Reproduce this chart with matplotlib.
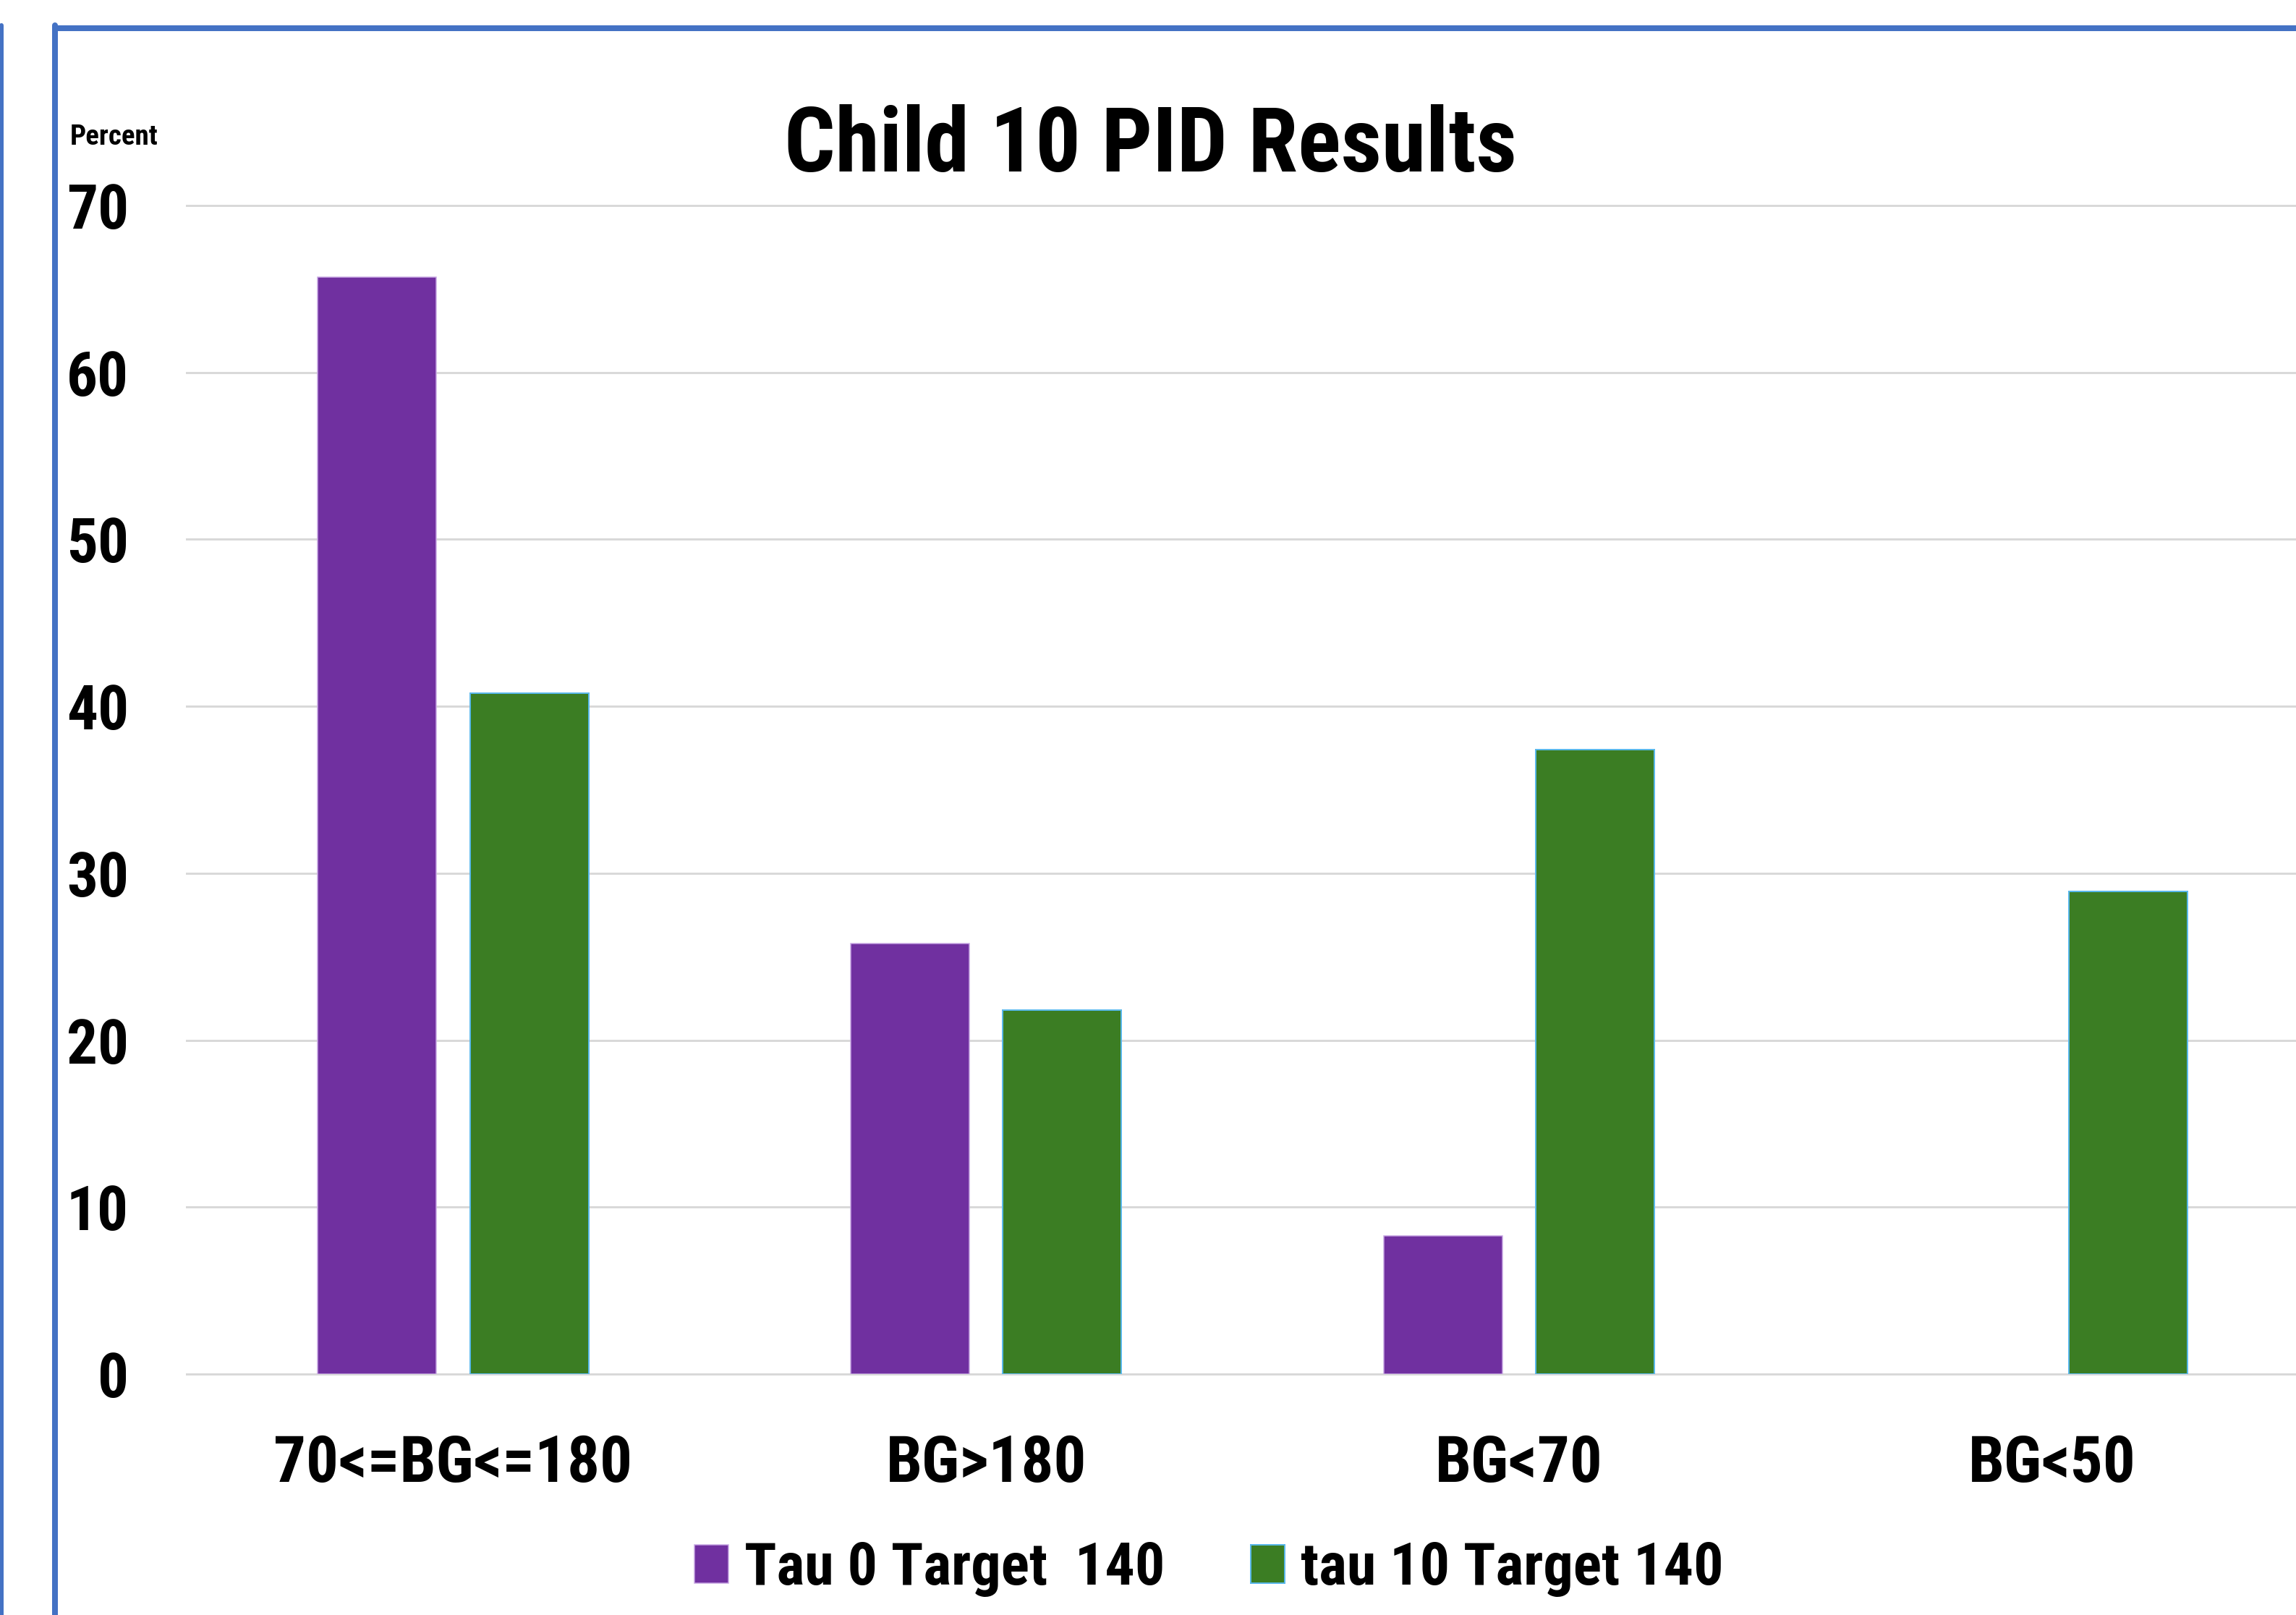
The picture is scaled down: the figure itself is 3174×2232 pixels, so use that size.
import matplotlib
matplotlib.use("Agg")
import matplotlib.pyplot as plt
from matplotlib import font_manager
from matplotlib.lines import Line2D
import numpy as np

categories = ["70<=BG<=180", "BG>180", "BG<70", "BG<50"]
series_names = ["Tau 0 Target  140", "tau 10 Target 140"]
tau0_values = [65.7, 25.8, 8.3, 0.0]
tau10_values = [40.8, 21.8, 37.4, 28.9]
yticks = [0, 10, 20, 30, 40, 50, 60, 70]

def pick_font(cands):
    for c in cands:
        try:
            font_manager.findfont(font_manager.FontProperties(family=c, weight="bold"),
                                  fallback_to_default=False)
            return c
        except Exception:
            pass
    return "DejaVu Sans"

NARROW = pick_font(["Liberation Sans Narrow", "Arial Narrow", "Roboto Condensed", "Liberation Sans"])
TITLE_FONT = NARROW
plt.rcParams["font.family"] = [NARROW, "DejaVu Sans"]
plt.rcParams["font.weight"] = "bold"

W, H = 3174, 2232
DPI = 72
fig = plt.figure(figsize=(W / DPI, H / DPI), dpi=DPI)
fig.patch.set_facecolor("white")

left_px, right_px = 258, 3205
bottom_px, top_px = 1899, 284
ax = fig.add_axes([left_px / W, 1 - bottom_px / H, (right_px - left_px) / W, (bottom_px - top_px) / H])

purple = "#7030A0"
green = "#3B7D23"
x = np.arange(len(categories))
bw = 0.2226
off = 0.143
ax.bar(x - off, tau0_values, bw, color=purple, edgecolor="#c7a6e3",
       linewidth=[1.5 if v > 0 else 0 for v in tau0_values],
       label=series_names[0], zorder=3)
ax.bar(x + off, tau10_values, bw, color=green, edgecolor="#5ab8ea",
       linewidth=[2 if v > 0 else 0 for v in tau10_values],
       label=series_names[1], zorder=3)

ax.set_xlim(-0.5, len(categories) - 0.5)
ax.set_ylim(0, 70)
ax.set_yticks(yticks)
ax.set_yticklabels([str(t) for t in yticks], fontsize=85, fontweight="bold")
ax.set_xticks(x)
ax.set_xticklabels(categories, fontsize=89, fontweight="bold")
ax.tick_params(axis="y", length=0, pad=80)
ax.tick_params(axis="x", length=0, pad=82)
for s in ax.spines.values():
    s.set_visible(False)
ax.yaxis.grid(True, color="#d9d9d9", linewidth=3, zorder=0)
for gl in ax.yaxis.get_gridlines():
    gl.set_clip_on(False)
ax.set_axisbelow(True)
ax.patch.set_alpha(0)

fig.text(0.501, 1 - 237 / H, "Child 10 PID Results", ha="center", va="baseline",
         fontsize=124, fontweight="bold", family=[TITLE_FONT, "DejaVu Sans"])
fig.text(97 / W, 1 - 200 / H, "Percent", ha="left", va="baseline", fontsize=39, fontweight="bold")

leg = fig.legend(loc="center", bbox_to_anchor=(0.5265, 1 - 2168 / H), ncol=2, frameon=False,
                 fontsize=82, handlelength=0.57, handleheight=0.62, handletextpad=0.27,
                 columnspacing=1.45, borderpad=0, borderaxespad=0)
for t in leg.get_texts():
    t.set_fontweight("bold")

blue = "#4472C4"
# frame lines (decoration)
fig.add_artist(Line2D([76 / W, 76 / W], [1 - 35 / H, 0], color=blue, linewidth=8,
                      transform=fig.transFigure, solid_capstyle="round"))
fig.add_artist(Line2D([76 / W, 1.01], [1 - 39 / H, 1 - 39 / H], color=blue, linewidth=8,
                      transform=fig.transFigure, solid_capstyle="round"))
fig.add_artist(Line2D([2 / W, 2 / W], [1 - 35 / H, 0], color=blue, linewidth=6,
                      transform=fig.transFigure, solid_capstyle="round"))

fig.savefig("out.png", dpi=DPI, facecolor="white")
